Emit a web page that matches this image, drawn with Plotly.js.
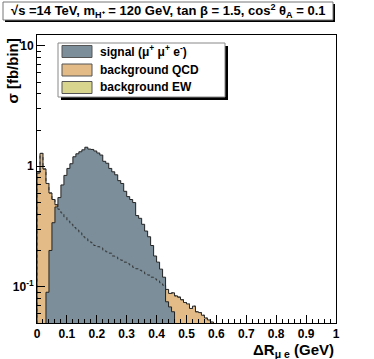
<!DOCTYPE html>
<html>
<head>
<meta charset="utf-8">
<script src="https://cdn.plot.ly/plotly-3.0.1.min.js"></script>
<style>
  body { margin: 0; background: #fff; }
  #plot { width: 374px; height: 359px; }
</style>
</head>
<body>
<div id="plot"></div>
<script>
// histogram contents, one value per 0.01 bin of Delta R
var binWidth = 0.01;
var qcdStart = 0.00;
var qcdValues = [0.88, 1.28, 0.95, 0.72, 0.60, 0.53, 0.48, 0.44, 0.41, 0.38,
                 0.35, 0.33, 0.31, 0.295, 0.28, 0.26, 0.25, 0.24, 0.232, 0.22,
                 0.215, 0.21, 0.20, 0.195, 0.19, 0.18, 0.176, 0.17, 0.166, 0.16,
                 0.155, 0.151, 0.145, 0.141, 0.137, 0.133, 0.128, 0.125, 0.12, 0.116,
                 0.112, 0.108, 0.103, 0.095, 0.088, 0.089, 0.084, 0.082, 0.078, 0.074,
                 0.072, 0.066, 0.069, 0.062, 0.061, 0.058, 0.055, 0.053, 0.051];
var signalStart = 0.03;
var signalValues = [0.09, 0.20, 0.34, 0.46, 0.55, 0.70, 0.84, 0.96, 1.05, 1.20,
                    1.27, 1.32, 1.37, 1.44, 1.39, 1.38, 1.34, 1.29, 1.24, 1.10,
                    1.06, 0.96, 0.90, 0.85, 0.76, 0.72, 0.62, 0.56, 0.53, 0.50,
                    0.39, 0.37, 0.33, 0.29, 0.26, 0.22, 0.18, 0.16, 0.14, 0.12,
                    0.075, 0.068, 0.062];

var xTickVals = [0, 0.1, 0.2, 0.3, 0.4, 0.5, 0.6, 0.7, 0.8, 0.9, 1];
var xTickText = ["0", "0.1", "0.2", "0.3", "0.4", "0.5", "0.6", "0.7", "0.8", "0.9", "1"];
var yTickVals = [0.1, 1, 10];
var yTickText = ["10<sup>-1</sup>", "1", "10"];

var legendLabels = ["signal (\u03bc<sup>+</sup> \u03bc<sup>+</sup> e<sup>-</sup>)", "background QCD", "background EW"];
var legendColors = ["#7b8e9a", "#e2bb87", "#d8d58e"];

var floor = 1e-3;   // below the visible range, closes the fill

function stepXY(start, values) {
  var xs = [start], ys = [floor];
  for (var i = 0; i < values.length; i++) {
    xs.push(Math.round((start + i * binWidth) * 1000) / 1000);
    ys.push(values[i]);
  }
  var end = Math.round((start + values.length * binWidth) * 1000) / 1000;
  xs.push(end); ys.push(values[values.length - 1]);
  xs.push(end); ys.push(floor);
  return {x: xs, y: ys};
}

var qcd = stepXY(qcdStart, qcdValues);
var sig = stepXY(signalStart, signalValues);

var data = [
  { x: qcd.x, y: qcd.y, type: 'scatter', mode: 'lines', fill: 'toself',
    fillcolor: legendColors[1], line: {shape: 'hv', color: '#222', width: 1},
    showlegend: false, hoverinfo: 'skip' },
  { x: sig.x, y: sig.y, type: 'scatter', mode: 'lines', fill: 'toself',
    fillcolor: legendColors[0], line: {shape: 'hv', color: '#222', width: 1},
    showlegend: false, hoverinfo: 'skip' },
  { x: qcd.x, y: qcd.y, type: 'scatter', mode: 'lines',
    line: {shape: 'hv', color: '#333', width: 1, dash: 'dot'},
    showlegend: false, hoverinfo: 'skip' }
];

// minor ticks on the log axis
var yMinor = [];
[0.01, 0.1, 1].forEach(function(d) {
  for (var k = 2; k <= 9; k++) yMinor.push(Math.round(k * d * 1000) / 1000);
});

var L = 37, R = 336, T = 35, B = 323;
function px(x) { return (x - L) / (R - L); }
function py(y) { return (B - y) / (B - T); }

var boldFont = {family: 'Liberation Sans, Arial, sans-serif', color: '#000', weight: 'bold'};
function f(size) { return Object.assign({}, boldFont, {size: size}); }

var shapes = [
  // title box
  {type: 'rect', xref: 'paper', yref: 'paper', x0: px(5), x1: px(335), y0: py(22), y1: py(4),
   fillcolor: '#000', line: {width: 0}},
  {type: 'rect', xref: 'paper', yref: 'paper', x0: px(3), x1: px(333), y0: py(20), y1: py(2),
   fillcolor: '#fff', line: {color: '#777', width: 1}},
  // legend box with shadow
  {type: 'rect', xref: 'paper', yref: 'paper', x0: px(61), x1: px(228), y0: py(100), y1: py(46),
   fillcolor: '#000', line: {width: 0}},
  {type: 'rect', xref: 'paper', yref: 'paper', x0: px(58), x1: px(225), y0: py(97), y1: py(43),
   fillcolor: '#fff', line: {color: '#888', width: 1}}
];
var rowY = [51.5, 70, 87.5];
var annotations = [];
for (var i = 0; i < legendLabels.length; i++) {
  shapes.push({type: 'rect', xref: 'paper', yref: 'paper', x0: px(62), x1: px(92),
    y0: py(rowY[i] + 6), y1: py(rowY[i] - 6), fillcolor: legendColors[i],
    line: {color: '#555', width: 1}});
  annotations.push({xref: 'paper', yref: 'paper', x: px(98), y: py(rowY[i]),
    xanchor: 'left', yanchor: 'middle', showarrow: false, text: legendLabels[i], font: f(12)});
}
annotations.push({xref: 'paper', yref: 'paper', x: px(168), y: py(11), xanchor: 'center', yanchor: 'middle',
  showarrow: false, font: f(13),
  text: '\u221As =14 TeV, m<sub>H\u207a</sub> = 120 GeV, tan \u03b2 = 1.5, cos<sup>2</sup> \u03b8<sub>A</sub> = 0.1'});
annotations.push({xref: 'paper', yref: 'paper', x: px(12), y: py(37), xanchor: 'center', yanchor: 'top',
  showarrow: false, textangle: -90, font: f(15), text: '\u03c3 [fb/bin]'});
annotations.push({xref: 'paper', yref: 'paper', x: px(336), y: py(350), xanchor: 'right', yanchor: 'middle',
  showarrow: false, font: f(15), text: '\u0394R<sub>\u03bc e</sub> (GeV)'});

var layout = {
  width: 374, height: 359,
  margin: {l: L, r: 374 - R, t: T, b: 359 - B},
  paper_bgcolor: '#fff', plot_bgcolor: '#fff',
  showlegend: false,
  xaxis: {
    range: [0, 1], showgrid: false, zeroline: false,
    showline: true, mirror: true, linecolor: '#000', linewidth: 1,
    tickmode: 'array', tickvals: xTickVals, ticktext: xTickText,
    ticks: 'inside', ticklen: 8, tickcolor: '#000', tickfont: f(12),
    minor: {dtick: 0.02, ticks: 'inside', ticklen: 4, tickcolor: '#000', showgrid: false}
  },
  yaxis: {
    type: 'log', range: [Math.log10(0.05), 1.09], showgrid: false, zeroline: false,
    showline: true, mirror: true, linecolor: '#000', linewidth: 1,
    tickmode: 'array', tickvals: yTickVals, ticktext: yTickText,
    ticks: 'inside', ticklen: 8, tickcolor: '#000', tickfont: f(12),
    minor: {tickmode: 'array', tickvals: yMinor, ticks: 'inside', ticklen: 4, tickcolor: '#000', showgrid: false}
  },
  shapes: shapes,
  annotations: annotations
};

Plotly.newPlot('plot', data, layout, {staticPlot: true});
</script>
</body>
</html>
